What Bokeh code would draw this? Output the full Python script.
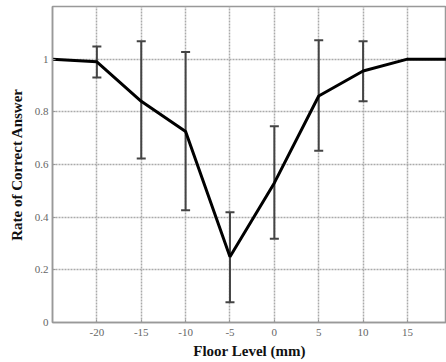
from bokeh.plotting import figure
from bokeh.models import ColumnDataSource, Whisker, TeeHead, FixedTicker, CustomJSTickFormatter, Range1d
from bokeh.embed import file_html
from bokeh.resources import INLINE

floor_level = [-25, -20, -15, -10, -5, 0, 5, 10, 15, 20]
rate_correct = [1.0, 0.99, 0.84, 0.725, 0.25, 0.53, 0.86, 0.955, 1.0, 1.0]

err_x = [-20, -15, -10, -5, 0, 5, 10]
err_upper = [1.048, 1.068, 1.027, 0.419, 0.745, 1.072, 1.068]
err_lower = [0.930, 0.623, 0.426, 0.077, 0.318, 0.652, 0.840]

x_ticks = [-20, -15, -10, -5, 0, 5, 10, 15]
y_ticks = [0, 0.2, 0.4, 0.6, 0.8, 1.0]

p = figure(width=446, height=362, output_backend="svg", toolbar_location=None,
           x_range=Range1d(-25, 19.4), y_range=Range1d(0, 1.2),
           min_border_left=52, min_border_right=0, min_border_top=6, min_border_bottom=40)

p.background_fill_color = "white"
p.border_fill_color = "white"
p.outline_line_color = "#999999"
p.outline_line_width = 1.5

p.line(floor_level, rate_correct, line_color="black", line_width=3)

src = ColumnDataSource(dict(x=err_x, upper=err_upper, lower=err_lower))
w = Whisker(source=src, base="x", upper="upper", lower="lower",
            line_color="#444444", line_width=2,
            upper_head=TeeHead(size=9, line_color="#444444", line_width=2),
            lower_head=TeeHead(size=9, line_color="#444444", line_width=2))
p.add_layout(w)

for g in (p.xgrid, p.ygrid):
    g.grid_line_color = "#aaaaaa"
    g.grid_line_dash = "2 1"
    g.grid_line_width = 1.5

p.xaxis.ticker = FixedTicker(ticks=x_ticks)
p.yaxis.ticker = FixedTicker(ticks=y_ticks)
p.xaxis.formatter = CustomJSTickFormatter(code="return String(Math.round(tick));")
p.yaxis.formatter = CustomJSTickFormatter(code="""
    if (Math.abs(tick) < 1e-9) return "0";
    if (Math.abs(tick - 1) < 1e-9) return "1";
    return tick.toFixed(1);
""")

for ax in (p.xaxis, p.yaxis):
    ax.axis_line_color = "#999999"
    ax.axis_line_width = 1.5
    ax.major_tick_line_color = "#999999"
    ax.major_tick_in = 3
    ax.major_tick_out = 0
    ax.minor_tick_line_color = None
    ax.major_label_text_font = "Liberation Serif"
    ax.major_label_text_font_size = "11px"
    ax.major_label_text_color = "#666666"
    ax.axis_label_text_font = "Liberation Serif"
    ax.axis_label_text_font_style = "bold"
    ax.axis_label_text_font_size = "15px"
    ax.axis_label_text_color = "#111111"

p.xaxis.axis_label = "Floor Level (mm)"
p.yaxis.axis_label = "Rate of Correct Answer"
p.xaxis.major_label_standoff = 6
p.yaxis.major_label_standoff = 4
p.xaxis.axis_label_standoff = 4
p.yaxis.axis_label_standoff = 7

open("out.html", "w").write(file_html(p, INLINE))
